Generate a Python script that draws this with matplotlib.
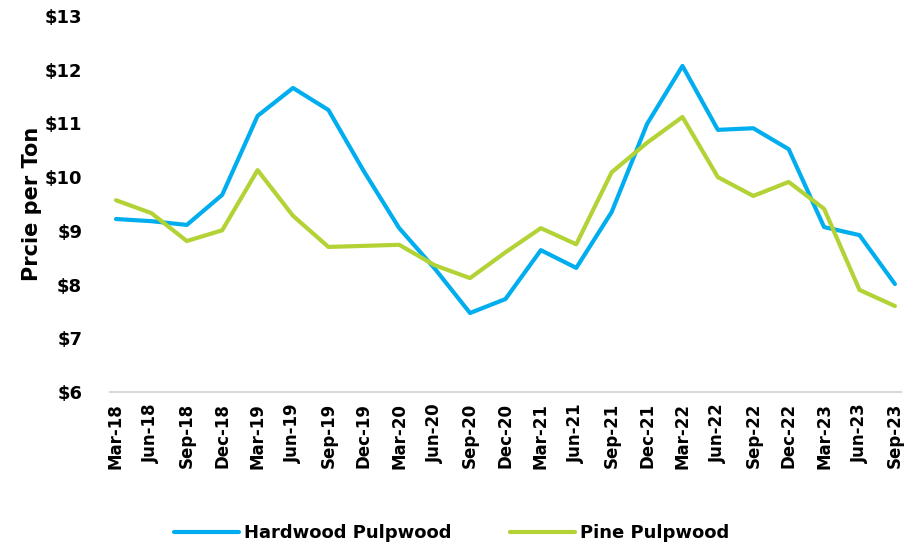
import matplotlib
matplotlib.use('Agg')
import matplotlib.pyplot as plt

quarters = ['Mar-18', 'Jun-18', 'Sep-18', 'Dec-18', 'Mar-19', 'Jun-19', 'Sep-19', 'Dec-19',
            'Mar-20', 'Jun-20', 'Sep-20', 'Dec-20', 'Mar-21', 'Jun-21', 'Sep-21', 'Dec-21',
            'Mar-22', 'Jun-22', 'Sep-22', 'Dec-22', 'Mar-23', 'Jun-23', 'Sep-23']
hardwood = [9.22, 9.18, 9.11, 9.67, 11.14, 11.66, 11.25, 10.11, 9.05, 8.30, 7.47, 7.73,
            8.64, 8.31, 9.35, 10.99, 12.07, 10.88, 10.91, 10.52, 9.07, 8.92, 8.01]
pine = [9.57, 9.33, 8.81, 9.01, 10.13, 9.28, 8.70, 8.72, 8.74, 8.36, 8.12, 8.60,
        9.05, 8.75, 10.09, 10.64, 11.12, 10.00, 9.65, 9.91, 9.41, 7.90, 7.60]
y_ticks = [6, 7, 8, 9, 10, 11, 12, 13]

plt.rcParams['font.family'] = ['DejaVu Sans']
plt.rcParams['font.weight'] = 'bold'

fig = plt.figure(figsize=(9.05, 5.51), dpi=100)
ax = fig.add_axes([0.1215, 0.2886, 0.874, 0.6824])

x = range(len(quarters))
ax.plot(x, hardwood, color='#00AEEF', lw=3, label='Hardwood Pulpwood', solid_capstyle='round')
ax.plot(x, pine, color='#B2D235', lw=3, label='Pine Pulpwood', solid_capstyle='round')

ax.set_xlim(-0.17, 22.17)
ax.set_ylim(6, 13)
ax.set_yticks(y_ticks)
ax.set_yticklabels(['$' + str(v) for v in y_ticks], fontsize=13, fontweight='bold')
ax.set_xticks(list(x))
ax.set_xticklabels(quarters, rotation=90, fontsize=12, fontweight='bold')
ax.tick_params(length=0, pad=8)
ax.tick_params(axis='y', pad=20)

for s in ['top', 'right', 'left']:
    ax.spines[s].set_visible(False)
ax.spines['bottom'].set_color('#d9d9d9')
ax.spines['bottom'].set_linewidth(1.5)

ax.set_ylabel('Prcie per Ton', fontsize=15, fontweight='bold', labelpad=2)

ax.legend(loc='center', bbox_to_anchor=(0.432, -0.375), ncol=2, frameon=False,
          fontsize=13, handlelength=3.6, columnspacing=3.2, handletextpad=0.3)

fig.savefig('out.png', dpi=100)
